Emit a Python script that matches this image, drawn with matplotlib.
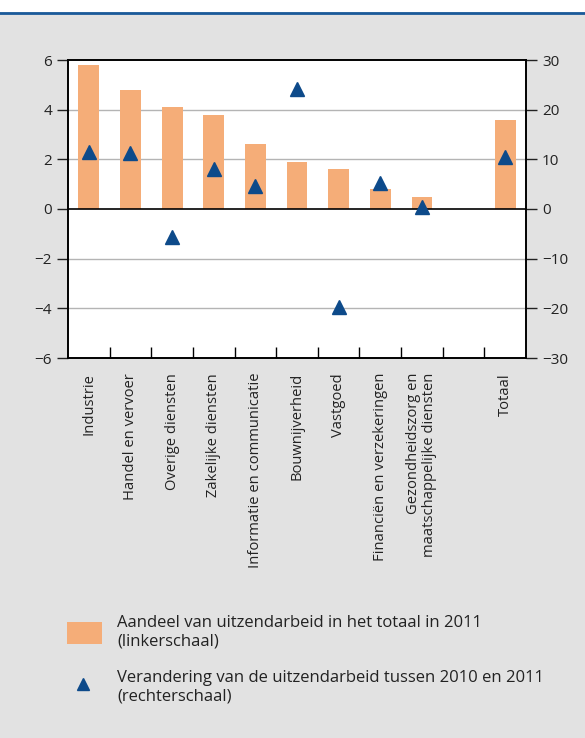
import matplotlib.pyplot as plt
import matplotlib.lines as mlines
import matplotlib.patches as mpatches

plt.rcParams['font.family'] = ['Open Sans', 'DejaVu Sans']

categories = ["Industrie", "Handel en vervoer", "Overige diensten", "Zakelijke diensten",
              "Informatie en communicatie", "Bouwnijverheid", "Vastgoed",
              "Financiën en verzekeringen", "Gezondheidszorg en\nmaatschappelijke diensten",
              "", "Totaal"]
aandeel = [5.8, 4.8, 4.1, 3.8, 2.6, 1.9, 1.6, 0.8, 0.5, None, 3.6]
verandering = [11.4, 11.3, -5.7, 8.0, 4.6, 24.1, -19.7, 5.2, 0.5, None, 10.4]

bar_color = '#f5ad78'
tri_color = '#0d4a8a'
bg = '#e2e2e2'

fig = plt.figure(figsize=(5.85, 7.38), dpi=100)
fig.patch.set_facecolor(bg)
# white strip and blue line at top
fig.patches.append(mpatches.Rectangle((0, 1 - 12 / 738), 1, 12 / 738, transform=fig.transFigure,
                                      facecolor='white', edgecolor='none', zorder=0))
fig.lines.append(mlines.Line2D([0, 1], [1 - 12.5 / 738, 1 - 12.5 / 738], transform=fig.transFigure,
                               color='#1a5a9a', lw=2))

ax = fig.add_axes([68 / 585, 1 - 358 / 738, 458 / 585, 298 / 738])
ax.set_facecolor('white')
x = list(range(len(categories)))

bx = [i for i, v in zip(x, aandeel) if v is not None]
bv = [v for v in aandeel if v is not None]
ax.bar(bx, bv, width=0.5, color=bar_color, zorder=2)
ax.set_xlim(-0.5, len(categories) - 0.5)
ax.set_ylim(-6, 6)
ax.set_yticks([-6, -4, -2, 0, 2, 4, 6])
ax.set_yticklabels(['\u22126', '\u22124', '\u22122', '0', '2', '4', '6'])
for y in [-4, -2, 2, 4]:
    ax.axhline(y, color='#b4b4b4', lw=1, zorder=1)
ax.axhline(0, color='black', lw=1.2, zorder=3)

# category ticks at slot boundaries, labels as rotated text
ax.set_xticks([i + 0.5 for i in range(len(categories) - 1)])
ax.set_xticklabels([])
ax.tick_params(axis='x', direction='in', length=8, color='black', width=1)
ax.tick_params(axis='y', direction='out', length=8, labelsize=11, colors='#222222', width=1)
for i, c in enumerate(categories):
    ax.text(i, -0.05, c, transform=ax.get_xaxis_transform(), rotation=90,
            ha='center', va='top', multialignment='right', fontsize=10.6,
            color='#222222', linespacing=1.1)

ax2 = ax.twinx()
tx = [i for i, v in zip(x, verandering) if v is not None]
tv = [v for v in verandering if v is not None]
ax2.plot(tx, tv, linestyle='none', marker='^', markersize=9.5, color=tri_color, zorder=4)
ax2.set_ylim(-30, 30)
ax2.set_yticks([-30, -20, -10, 0, 10, 20, 30])
ax2.set_yticklabels(['\u221230', '\u221220', '\u221210', '0', '10', '20', '30'])
ax2.tick_params(axis='y', direction='out', length=8, labelsize=11, colors='#222222', width=1)

for a in (ax, ax2):
    for s in a.spines.values():
        s.set_color('black')
        s.set_linewidth(1.2)

# legend
fig.patches.append(mpatches.Rectangle((67 / 585, 1 - 644 / 738), 35 / 585, 22 / 738,
                                      transform=fig.transFigure, facecolor=bar_color,
                                      edgecolor='none'))
fig.text(117 / 585, 1 - 632 / 738, "Aandeel van uitzendarbeid in het totaal in 2011\n(linkerschaal)",
         ha='left', va='center', fontsize=12, color='#222222', linespacing=1.2)
fig.lines.append(mlines.Line2D([83 / 585], [1 - 684 / 738], transform=fig.transFigure,
                               marker='^', markersize=8.5, color=tri_color, linestyle='none'))
fig.text(117 / 585, 1 - 687 / 738, "Verandering van de uitzendarbeid tussen 2010 en 2011\n(rechterschaal)",
         ha='left', va='center', fontsize=12, color='#222222', linespacing=1.2)

fig.savefig('out.png', dpi=100, facecolor=fig.get_facecolor())
